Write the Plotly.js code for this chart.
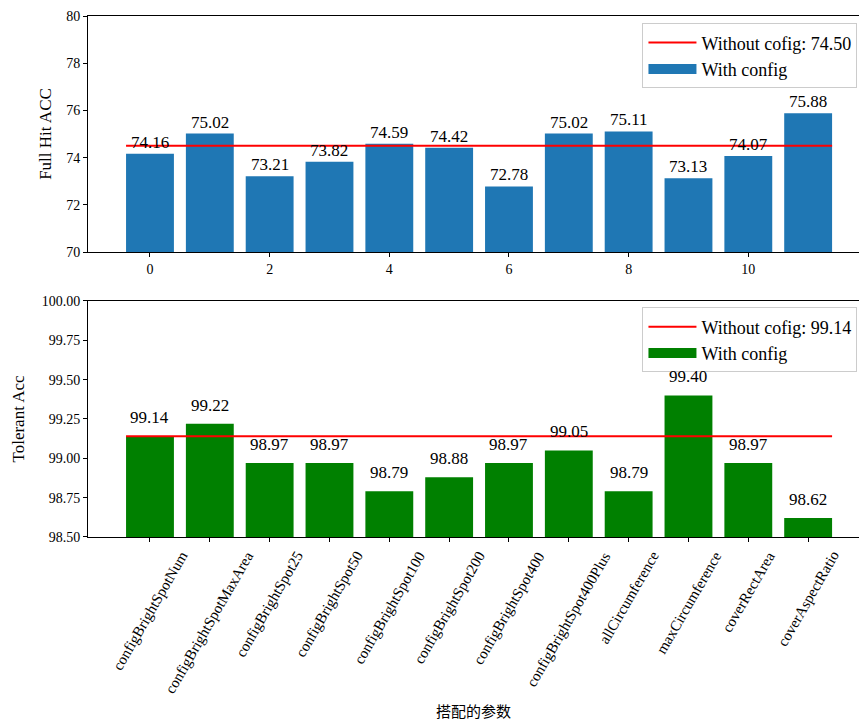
<!DOCTYPE html>
<html>
<head>
<meta charset="utf-8">
<script src="https://cdn.plot.ly/plotly-3.0.1.min.js"></script>
<style>
  html, body { margin: 0; padding: 0; background: #fff; overflow: hidden; }
  #chart { width: 859px; height: 724px; }
</style>
</head>
<body>
<div id="chart"></div>
<script>
// Parameter configurations compared in both panels
const paramNames = [
  'configBrightSpotNum', 'configBrightSpotMaxArea', 'configBrightSpot25',
  'configBrightSpot50', 'configBrightSpot100', 'configBrightSpot200',
  'configBrightSpot400', 'configBrightSpot400Plus', 'allCircumference',
  'maxCircumference', 'coverRectArea', 'coverAspectRatio'
];

// Full-hit accuracy per configuration, and the accuracy without any config
const fullHitAcc = [74.16, 75.02, 73.21, 73.82, 74.59, 74.42, 72.78, 75.02, 75.11, 73.13, 74.07, 75.88];
const fullHitBaseline = 74.50;

// Tolerant accuracy per configuration, and the accuracy without any config
const tolerantAcc = [99.14, 99.22, 98.97, 98.97, 98.79, 98.88, 98.97, 99.05, 98.79, 99.40, 98.97, 98.62];
const tolerantBaseline = 99.14;

// Axis tick values
const fullHitTicks = [70, 72, 74, 76, 78, 80];
const tolerantTicks = [98.50, 98.75, 99.00, 99.25, 99.50, 99.75, 100.00];
const indexTicks = [0, 2, 4, 6, 8, 10];

const SERIF = '"Liberation Serif", "Times New Roman", Times, serif';
const CJK = '"Noto Sans CJK SC", "Noto Sans", sans-serif';
const BAR_WIDTH = 0.8;
const BLUE = '#1f77b4', GREEN = '#008000', RED = '#ff0000';

const idx = paramNames.map((_, i) => i);
// baseline line spans from the left edge of the first bar to the right edge of the last
const lineX = [idx[0] - BAR_WIDTH / 2, idx[idx.length - 1] + BAR_WIDTH / 2];

// a bar panel: baseline line, bars, and a wide patch used as the bar's legend key
function panel(values, baseline, color, xa, ya, legendId) {
  return [
    {
      type: 'scatter', mode: 'lines',
      x: lineX, y: lineX.map(() => baseline),
      line: { color: RED, width: 2 },
      name: 'Without cofig: ' + baseline.toFixed(2),
      xaxis: xa, yaxis: ya, legend: legendId, hoverinfo: 'skip'
    },
    {
      type: 'bar', x: idx, y: values, width: BAR_WIDTH,
      marker: { color: color, line: { width: 0 } },
      name: 'With config', showlegend: false,
      xaxis: xa, yaxis: ya, hoverinfo: 'skip'
    },
    {
      type: 'scatter', mode: 'lines', x: [null], y: [null],
      line: { color: color, width: 13 },
      name: 'With config',
      xaxis: xa, yaxis: ya, legend: legendId, hoverinfo: 'skip'
    }
  ];
}

const traces = [].concat(
  panel(fullHitAcc, fullHitBaseline, BLUE, 'x', 'y', 'legend'),
  panel(tolerantAcc, tolerantBaseline, GREEN, 'x2', 'y2', 'legend2')
);

// value labels above each bar
const annotations = [];
fullHitAcc.forEach((v, i) => annotations.push({
  xref: 'x', yref: 'y', x: i, y: v, text: v.toFixed(2),
  showarrow: false, yanchor: 'bottom', yshift: 0,
  font: { family: SERIF, size: 17, color: '#000' }
}));
tolerantAcc.forEach((v, i) => annotations.push({
  xref: 'x2', yref: 'y2', x: i, y: v, text: v.toFixed(2),
  showarrow: false, yanchor: 'bottom', yshift: 7,
  font: { family: SERIF, size: 17, color: '#000' }
}));
// rotated configuration names under the lower panel
paramNames.forEach((name, i) => annotations.push({
  xref: 'x2', yref: 'paper', x: i, y: 0, text: name,
  textangle: -60, showarrow: false, xanchor: 'center', yanchor: 'top', yshift: -9,
  font: { family: SERIF, size: 15, color: '#000' }
}));

const axisBase = {
  showline: true, linecolor: '#000', linewidth: 1, mirror: true,
  ticks: 'outside', ticklen: 4, tickwidth: 1, tickcolor: '#000',
  showgrid: false, zeroline: false, automargin: false,
  tickfont: { family: SERIF, size: 14, color: '#000' }
};

const xRange = [-1.036, 11.85];

const legendBase = {
  x: 0.998, xanchor: 'right', yanchor: 'top',
  bgcolor: 'rgba(255,255,255,0.8)', bordercolor: '#cccccc', borderwidth: 1,
  font: { family: SERIF, size: 18, color: '#000' }, traceorder: 'normal',
  itemwidth: 48
};

const layout = {
  width: 859, height: 724,
  margin: { l: 88, r: 0, t: 16, b: 187 },
  paper_bgcolor: '#fff', plot_bgcolor: '#fff',
  showlegend: true,
  xaxis: Object.assign({}, axisBase, {
    anchor: 'y', domain: [0, 1], range: xRange,
    tickvals: indexTicks
  }),
  yaxis: Object.assign({}, axisBase, {
    anchor: 'x', domain: [0.547, 1], range: [70, 80],
    tickvals: fullHitTicks,
    title: { text: 'Full Hit ACC', font: { family: SERIF, size: 17, color: '#000' }, standoff: 10 }
  }),
  xaxis2: Object.assign({}, axisBase, {
    anchor: 'y2', domain: [0, 1], range: xRange,
    tickvals: idx, showticklabels: false,
    title: { text: '搭配的参数', font: { family: CJK, size: 15, color: '#000' }, standoff: 165 }
  }),
  yaxis2: Object.assign({}, axisBase, {
    anchor: 'x2', domain: [0, 0.453], range: [98.5, 100],
    tickvals: tolerantTicks, tickformat: '.2f',
    title: { text: 'Tolerant Acc', font: { family: SERIF, size: 17, color: '#000' }, standoff: 12 }
  }),
  legend: Object.assign({}, legendBase, { y: 0.986 }),
  legend2: Object.assign({}, legendBase, { y: 0.4405 }),
  annotations: annotations
};

Plotly.newPlot('chart', traces, layout, { staticPlot: true, displayModeBar: false });
</script>
</body>
</html>
